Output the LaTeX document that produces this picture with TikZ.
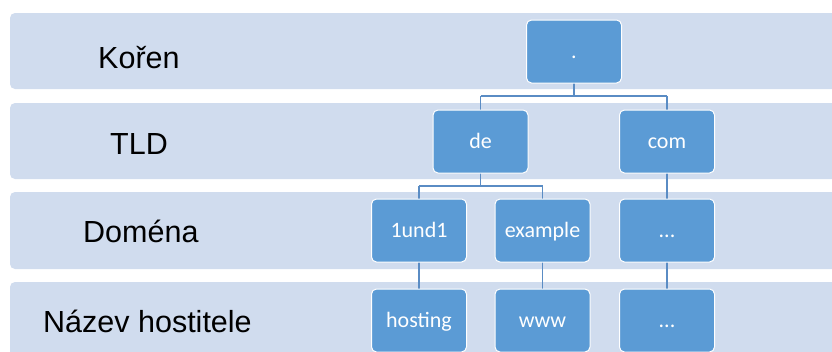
\documentclass[tikz,border=0pt]{standalone}
\usepackage{fontspec}
\setmainfont{Liberation Sans}
\newfontfamily\boxfont{Carlito}
\definecolor{bandfill}{HTML}{D0DCEE}
\definecolor{boxfill}{HTML}{5B9BD5}
\definecolor{linkcol}{HTML}{5A8CC4}
\begin{document}
\begin{tikzpicture}[x=1pt,y=-1pt,
  band/.style={fill=bandfill,rounded corners=5pt},
  level/.style={anchor=base west,font=\fontsize{30.5}{36}\selectfont,text=black,inner sep=0pt},
  dnsbox/.style={draw=white,line width=1pt,fill=boxfill,rounded corners=5pt,
    minimum width=95pt,minimum height=63pt,inner sep=0pt,
    text height=13pt,text depth=0pt,
    font=\boxfont\fontsize{22}{26}\selectfont,text=white},
  link/.style={draw=linkcol,line width=1.1pt}]
\useasboundingbox (0,0) rectangle (832,351);
\clip (0,0) rectangle (832,351);
% background bands, one per level
\path[band] (10,13) rectangle (845,89);
\path[band] (10,103) rectangle (845,179);
\path[band] (10,192) rectangle (845,269);
\path[band] (10,282) rectangle (845,370);
% level captions
\node[level] (lroot) at (98,68) {Kořen};
\node[level] (ltld) at (110,154) {TLD};
\node[level] (ldom) at (83,242) {Doména};
\node[level] (lhost) at (43,332) {Název hostitele};
% connectors
\coordinate (j1) at (574,96);
\coordinate (j2) at (480.5,186);
\draw[link] (574,83) -- (j1);
\draw[link] (480.5,96) -- (667,96);
\draw[link] (480.5,96) -- (480.5,110);
\draw[link] (667,96) -- (667,110);
\draw[link] (480.5,173) -- (j2);
\draw[link] (419,186) -- (542.5,186);
\draw[link] (419,186) -- (419,199);
\draw[link] (542.5,186) -- (542.5,199);
\draw[link] (667,173) -- (667,199);
\draw[link] (419,262) -- (419,289);
\draw[link] (542.5,262) -- (542.5,289);
\draw[link] (667,262) -- (667,289);
% tree boxes
\node[dnsbox] (root) at (574,51.5) {.};
\node[dnsbox] (de) at (480.5,141.5) {de};
\node[dnsbox] (com) at (667,141.5) {com};
\node[dnsbox] (oneandone) at (419,230.5) {1und1};
\node[dnsbox] (example) at (542.5,230.5) {example};
\node[dnsbox] (domdots) at (667,230.5) {...};
\node[dnsbox] (hosting) at (419,320.5) {hosting};
\node[dnsbox] (www) at (542.5,320.5) {www};
\node[dnsbox] (hostdots) at (667,320.5) {...};
\end{tikzpicture}
\end{document}
